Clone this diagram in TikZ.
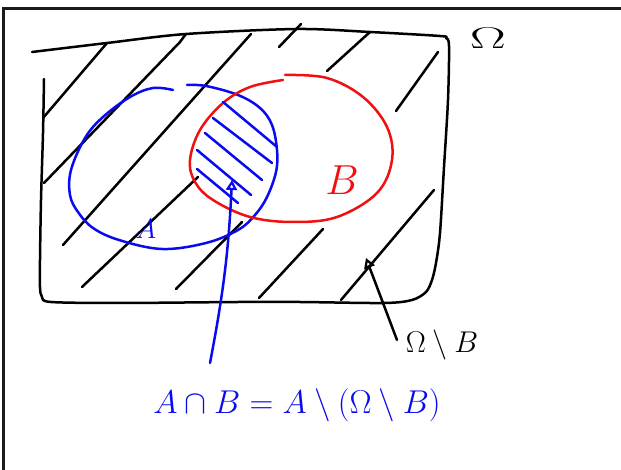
\RequirePackage{fix-cm}
\documentclass[tikz,border=0pt]{standalone}
\usepackage{amsmath,amssymb}
\usepackage{tikz}
\usetikzlibrary{arrows.meta}
\definecolor{penblue}{HTML}{0A0AF0}
\definecolor{penred}{HTML}{F01010}
\definecolor{pen}{HTML}{000000}
\definecolor{framegray}{HTML}{1A1A1A}
\newcommand{\penfont}[1]{\fontsize{#1}{#1}\selectfont}
\tikzset{
  stroke/.style={line width=2.5pt,line cap=round,line join=round},
  hatch/.style={stroke,color=pen},
  ahatch/.style={stroke,color=penblue},
  aline/.style={stroke,color=penblue},
  bline/.style={stroke,color=penred},
  parrow/.style={stroke,-{Triangle[open,length=10pt,width=11pt,line width=2.2pt]}},
}

\begin{document}
\begin{tikzpicture}[x=1pt,y=-1pt]
  \useasboundingbox (0,0) rectangle (621,470);
  \draw[line width=3pt,color=framegray] (3,470) -- (3,9) -- (621,9);

  % the set Omega
  \draw[hatch] plot[smooth,tension=0.5] coordinates {(32,52) (107,43) (186,34) (297,29) (370,32)
    (440,36) (446,38) (449,46) (448,100) (444,167) (440,233) (436,263) (432,280) (426,292)
    (412,300) (384,303) (300,302) (238,302) (120,303) (51,302) (42,297) (40,287) (40,260)
    (41,200) (43,133) (44,79)};
  \node[font=\penfont{30},color=pen] (omega) at (488,38) {\scalebox{1.8}[1]{$\Omega$}};

  % hatching of Omega minus B
  \draw[hatch] (43,118) -- (107,43);
  \draw[hatch] (44,183) -- (180,42) -- (186,34);
  \draw[hatch] (63,245) -- (251,34);
  \draw[hatch] (82,287) -- (198,177);
  \draw[hatch] (176,289) -- (242,222);
  \draw[hatch] (259,298) -- (323,229);
  \draw[hatch] (341,300) -- (434,190);
  \draw[hatch] (396,111) -- (438,52);
  \draw[hatch] (327,71) -- (370,32);
  \draw[hatch] (279,47) -- (301,24);

  % set A
  \draw[aline] plot[smooth,tension=0.6] coordinates {(173,90) (153,88) (130,97) (103,117) (85,138)
    (71,170) (70,195) (78,212) (93,228) (119,240) (162,249) (206,243) (238,230) (255,215)
    (267,197) (276,172) (277,150) (272,125) (260,108) (238,95) (206,86) (187,85)};
  \node[font=\penfont{28},color=penblue] (labA) at (146,229) {$A$};

  % set B
  \draw[bline] plot[smooth,tension=0.6] coordinates {(283,80) (250,87) (223,103) (200,130)
    (190,160) (195,182) (213,200) (250,217) (293,222) (337,217) (377,193) (392,160)
    (387,127) (363,97) (327,78) (285,75)};
  \node[font=\penfont{42},color=penred] (labB) at (342,180) {$B$};

  % hatching of A cap B
  \draw[ahatch] (223,102) -- (277,147);
  \draw[ahatch] (213,118) -- (272,163);
  \draw[ahatch] (205,133) -- (262,180);
  \draw[ahatch] (197,150) -- (251,195);
  \draw[ahatch] (197,169) -- (238,203);

  \node[font=\penfont{33},color=penblue] (formula) at (297,405) {$A\cap B=A\setminus(\Omega\setminus B)$};
  \node[font=\penfont{30},color=pen] (compl) at (442,345) {$\Omega\setminus B$};

  \coordinate (tailA) at (210,363);
  \coordinate (tipA) at (232,180);
  \coordinate (tailB) at (397,340);
  \coordinate (tipB) at (366,258);
  \draw[parrow,color=penblue] (tailA) to[bend right=4] (tipA);
  \draw[parrow,color=pen] (tailB) -- (tipB);
\end{tikzpicture}
\end{document}
